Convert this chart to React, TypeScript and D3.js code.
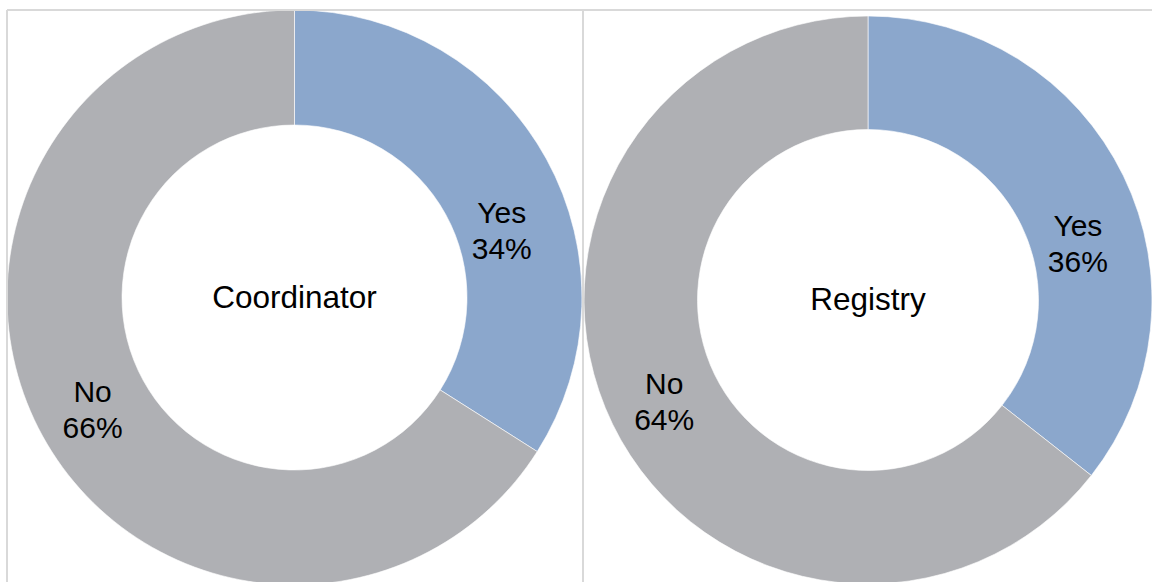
import React from "react";
import * as d3 from "d3";

const categories = ["Yes", "No"];
const chartTitles = ["Coordinator", "Registry"];
const coordinatorValues = [34, 66];
const registryValues = [35.6, 64.4];
const seriesValues = [coordinatorValues, registryValues];

const COLORS = ["#8BA7CC", "#AFB0B4"];
const FRAME = "#D9D9D9";
const FONT = "'Liberation Sans', Arial, sans-serif";

// layout per panel
const panels = [
  { cx: 294.5, cy: 297.5, rOuter: 287.5, rInner: 172.5 },
  { cx: 868, cy: 300, rOuter: 284, rInner: 170.5 },
];
// label placement per category: radius and angular shift (degrees)
const labelLayout = [
  { r: 215, shiftDeg: 13.4 },
  { r: 234, shiftDeg: -2.5 },
];

export default function App() {
  const W = 1152;
  const H = 582;
  const pie = d3
    .pie<number>()
    .sort(null)
    .value((d) => d);

  return (
    <svg
      width={W}
      height={H}
      style={{ position: "fixed", left: 0, top: 0, background: "#fff" }}
    >
      <rect x={0} y={0} width={W} height={H} fill="#fff" />
      {seriesValues.map((vals, i) => {
        const p = panels[i];
        const arcs = pie(vals);
        const arcGen = d3
          .arc<d3.PieArcDatum<number>>()
          .innerRadius(p.rInner)
          .outerRadius(p.rOuter);
        const total = d3.sum(vals);
        return (
          <g key={i} transform={`translate(${p.cx},${p.cy})`}>
            {arcs.map((a, j) => (
              <path
                key={j}
                d={arcGen(a) || ""}
                fill={COLORS[j]}
                stroke="#fff"
                strokeWidth={0.75}
                strokeOpacity={0.8}
              />
            ))}
            {arcs.map((a, j) => {
              const mid = (a.startAngle + a.endAngle) / 2;
              const ang = mid + (labelLayout[j].shiftDeg * Math.PI) / 180;
              const r = labelLayout[j].r;
              const x = r * Math.sin(ang) + (j === 1 ? -2 * (i === 0 ? 1 : -1) : 0);
              const y = -r * Math.cos(ang);
              const pct = Math.round((a.data / total) * 100);
              return (
                <text
                  key={"l" + j}
                  x={x}
                  y={y}
                  textAnchor="middle"
                  fontFamily={FONT}
                  fontSize={30}
                  fill="#000"
                >
                  <tspan x={x} dy={-17}>{categories[j]}</tspan>
                  <tspan x={x} dy={36}>{pct}%</tspan>
                </text>
              );
            })}
            <text
              x={0}
              y={10}
              textAnchor="middle"
              fontFamily={FONT}
              fontSize={31.5}
              fill="#000"
            >
              {chartTitles[i]}
            </text>
          </g>
        );
      })}
      <line x1={7} y1={10} x2={W} y2={10} stroke={FRAME} strokeWidth={2} />
      <line x1={7} y1={10} x2={7} y2={H} stroke={FRAME} strokeWidth={2} />
      <line x1={583} y1={10} x2={583} y2={H} stroke={FRAME} strokeWidth={2} />
    </svg>
  );
}
